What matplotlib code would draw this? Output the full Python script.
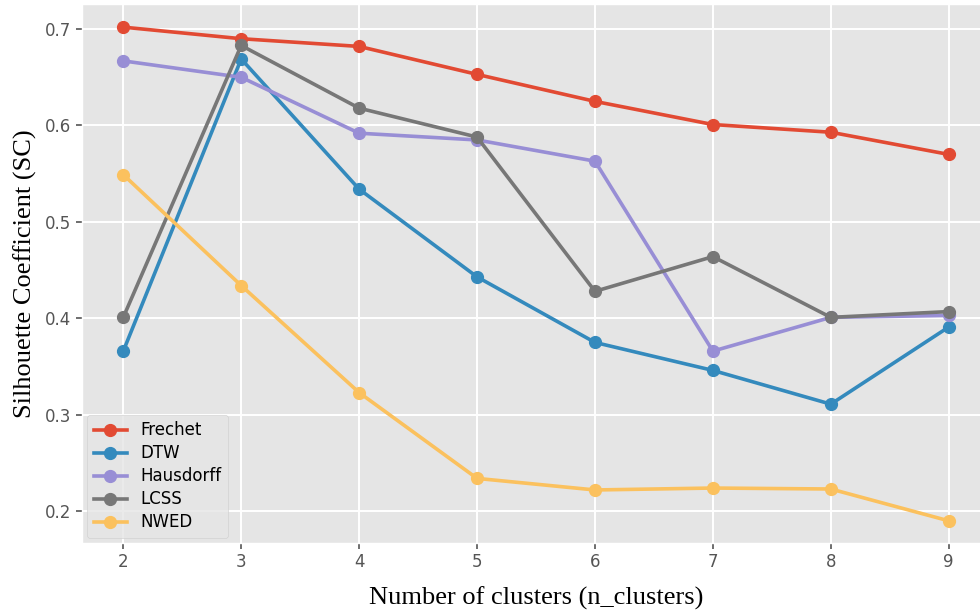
import numpy as np
import matplotlib
matplotlib.use("Agg")
import matplotlib.pyplot as plt

plt.style.use("ggplot")

n_clusters = [2, 3, 4, 5, 6, 7, 8, 9]

frechet = [0.702, 0.690, 0.682, 0.653, 0.625, 0.601, 0.593, 0.570]
dtw = [0.366, 0.669, 0.534, 0.443, 0.375, 0.346, 0.311, 0.391]
hausdorff = [0.667, 0.650, 0.592, 0.585, 0.563, 0.366, 0.401, 0.403]
lcss = [0.401, 0.683, 0.618, 0.588, 0.428, 0.464, 0.401, 0.407]
nwed = [0.549, 0.434, 0.323, 0.234, 0.222, 0.224, 0.223, 0.190]

series = [("Frechet", frechet, "#E24A33"),
          ("DTW", dtw, "#348ABD"),
          ("Hausdorff", hausdorff, "#988ED5"),
          ("LCSS", lcss, "#777777"),
          ("NWED", nwed, "#FBC15E")]

fig = plt.figure(figsize=(9.8, 6.1), dpi=100)
ax = fig.add_axes([82 / 980, 1 - 543 / 610, 908 / 980, 539 / 610])

for name, vals, col in series:
    ax.plot(n_clusters, vals, marker="o", color=col, linewidth=2.6,
            markersize=8.5, label=name)

ax.set_xlim(1.65, 9.35)
ax.set_ylim(0.167, 0.726)
ax.set_xticks(n_clusters)
ax.set_yticks([0.2, 0.3, 0.4, 0.5, 0.6, 0.7])
ax.tick_params(labelsize=12, colors="#555555", length=4, width=1.2)
ax.grid(True, color="white", linewidth=1.4)

ax.set_xlabel("Number of clusters (n_clusters)", family="Liberation Serif",
              fontsize=19, color="black", labelpad=11)
ax.set_ylabel("Silhouette Coefficient (SC)", family="Liberation Serif",
              fontsize=19, color="black", labelpad=6)

ax.legend(loc="lower left", fontsize=12, borderaxespad=0.3, labelspacing=0.3)

fig.savefig("out.png", dpi=100)
